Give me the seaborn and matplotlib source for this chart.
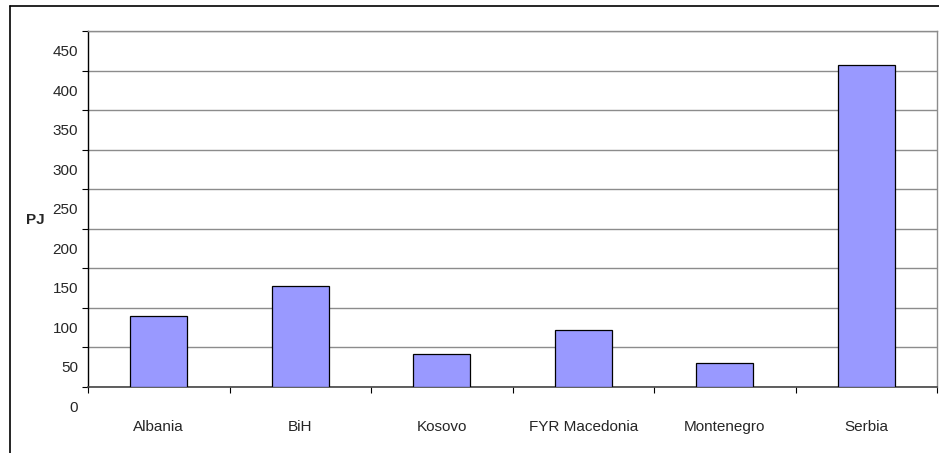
import numpy as np
import pandas as pd
import seaborn as sns
import matplotlib
matplotlib.use("Agg")
import matplotlib.pyplot as plt
from matplotlib.transforms import ScaledTranslation
from matplotlib.lines import Line2D

countries = ["Albania", "BiH", "Kosovo", "FYR Macedonia", "Montenegro", "Serbia"]
values = [90, 128, 42, 72, 30, 407]
yticks = [0, 50, 100, 150, 200, 250, 300, 350, 400, 450]

sns.set_style("white")
plt.rcParams["font.family"] = ["Liberation Sans", "DejaVu Sans"]

W, H = 939, 453
fig = plt.figure(figsize=(W / 100, H / 100), dpi=100)
ax = fig.add_axes([88 / W, 1 - 386.7 / H, (937 - 88) / W, (386.7 - 31) / H])

df = pd.DataFrame({"country": countries, "value": values})
sns.barplot(data=df, x="country", y="value", ax=ax, color="#9999FF",
            saturation=1, width=0.4, edgecolor="black", linewidth=0.9, zorder=3)

ax.set_xlim(-0.5, len(countries) - 0.5)
ax.set_ylim(0, 450)
ax.set_xlabel("")

# y axis
ax.set_yticks(yticks)
ax.set_yticklabels([str(v) for v in yticks], fontsize=11)
ax.yaxis.grid(True, color="#8c8c8c", linewidth=1, zorder=0)
ax.tick_params(axis="y", direction="out", length=4.3, width=0.8, color="black", pad=2.9, left=True)
off = ScaledTranslation(0, -0.197, fig.dpi_scale_trans)
for lab in ax.get_yticklabels():
    lab.set_transform(lab.get_transform() + off)

ax.set_ylabel("PJ", fontsize=11, fontweight="bold", rotation=0, va="center", ha="center")
ax.yaxis.set_label_coords((35 - 88) / (937 - 88), (386.7 - 220) / (386.7 - 31))

# x axis: boundary ticks, centered category labels
ax.set_xticks(np.arange(-0.5, len(countries), 1.0))
ax.set_xticklabels([])
ax.set_xticks(np.arange(len(countries)), minor=True)
ax.set_xticklabels(countries, minor=True, fontsize=11)
ax.tick_params(axis="x", which="major", direction="out", length=4.3, width=0.8, color="black", bottom=True)
ax.tick_params(axis="x", which="minor", length=0, pad=24)

for side in ["top", "right"]:
    ax.spines[side].set_color("#8c8c8c")
    ax.spines[side].set_linewidth(1)
ax.spines["left"].set_color("black")
ax.spines["left"].set_linewidth(1)
ax.spines["bottom"].set_color("#444444")
ax.spines["bottom"].set_linewidth(1.2)

# outer frame (left and top edges visible)
fig.add_artist(Line2D([10 / W, 10 / W], [0, 1 - 6 / H], color="black", linewidth=1.2))
fig.add_artist(Line2D([10 / W, 1], [1 - 6 / H, 1 - 6 / H], color="black", linewidth=1.2))

fig.savefig("out.png", dpi=100)
